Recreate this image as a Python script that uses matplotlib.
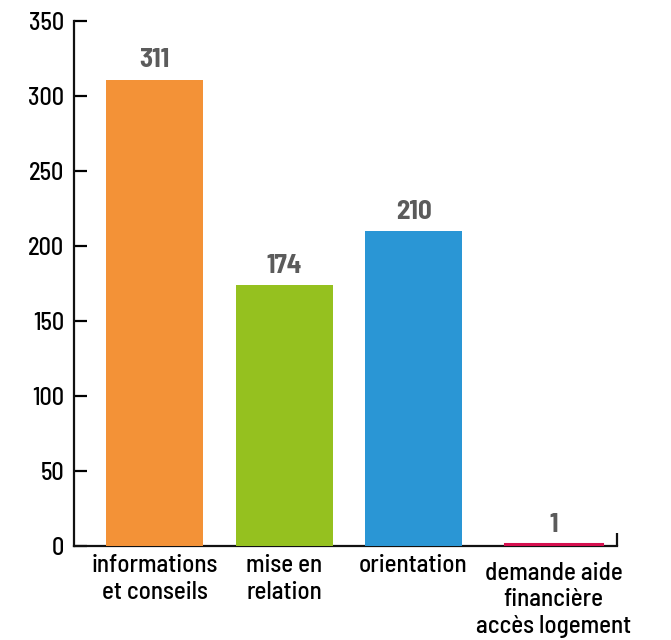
import matplotlib
matplotlib.use('Agg')
import matplotlib.pyplot as plt
from matplotlib import font_manager

# données
categories = ['informations\net conseils', 'mise en\nrelation', 'orientation',
              'demande aide\nfinancière\naccès logement']
values = [311, 174, 210, 1]
positions = [0, 1, 2, 3.08]
colors = ['#F39237', '#95C11F', '#2A96D5', '#D5104F']

names = {f.name for f in font_manager.fontManager.ttflist}
fam = next((n for n in ['Barlow Semi Condensed', 'Barlow Condensed', 'Roboto'] if n in names),
           'DejaVu Sans')
plt.rcParams['font.family'] = [fam, 'DejaVu Sans']

fig = plt.figure(figsize=(6.71, 6.40), dpi=100)
ax = fig.add_axes([0.1103, 0.1469, 0.8092, 0.8201])

bars = ax.bar(positions, values, width=0.749, color=colors, zorder=3)
bars[3].set_edgecolor(colors[3])
bars[3].set_linewidth(2.2)
for x, v in zip(positions, values):
    ax.text(x, v + 5, str(v), ha='center', va='bottom', fontsize=19.5,
            fontweight='bold', color='#5b5b5b')

ax.set_ylim(0, 350)
ax.set_xlim(-0.622, 3.571)
ax.set_yticks(range(0, 351, 50))
ax.tick_params(axis='y', direction='in', length=9, width=1.6, labelsize=17.5, pad=7)
for t in ax.get_yticklabels():
    t.set_fontweight(500)
ax.set_xticks(positions)
ax.set_xticklabels(categories, fontsize=18, linespacing=1.2, fontweight=500)
ax.tick_params(axis='x', length=0, pad=6)
ax.get_xticklabels()[3].set_y(-0.014)

for s in ['top', 'right']:
    ax.spines[s].set_visible(False)
for s in ['left', 'bottom']:
    ax.spines[s].set_linewidth(1.6)
    ax.spines[s].set_color('#111111')

# petit trait vertical en bout d'axe
ax.plot([1, 1], [0, 0.025], transform=ax.transAxes, color='#111111',
        lw=1.6, clip_on=False, solid_capstyle='butt')

fig.savefig('out.png', dpi=100, facecolor='white')
